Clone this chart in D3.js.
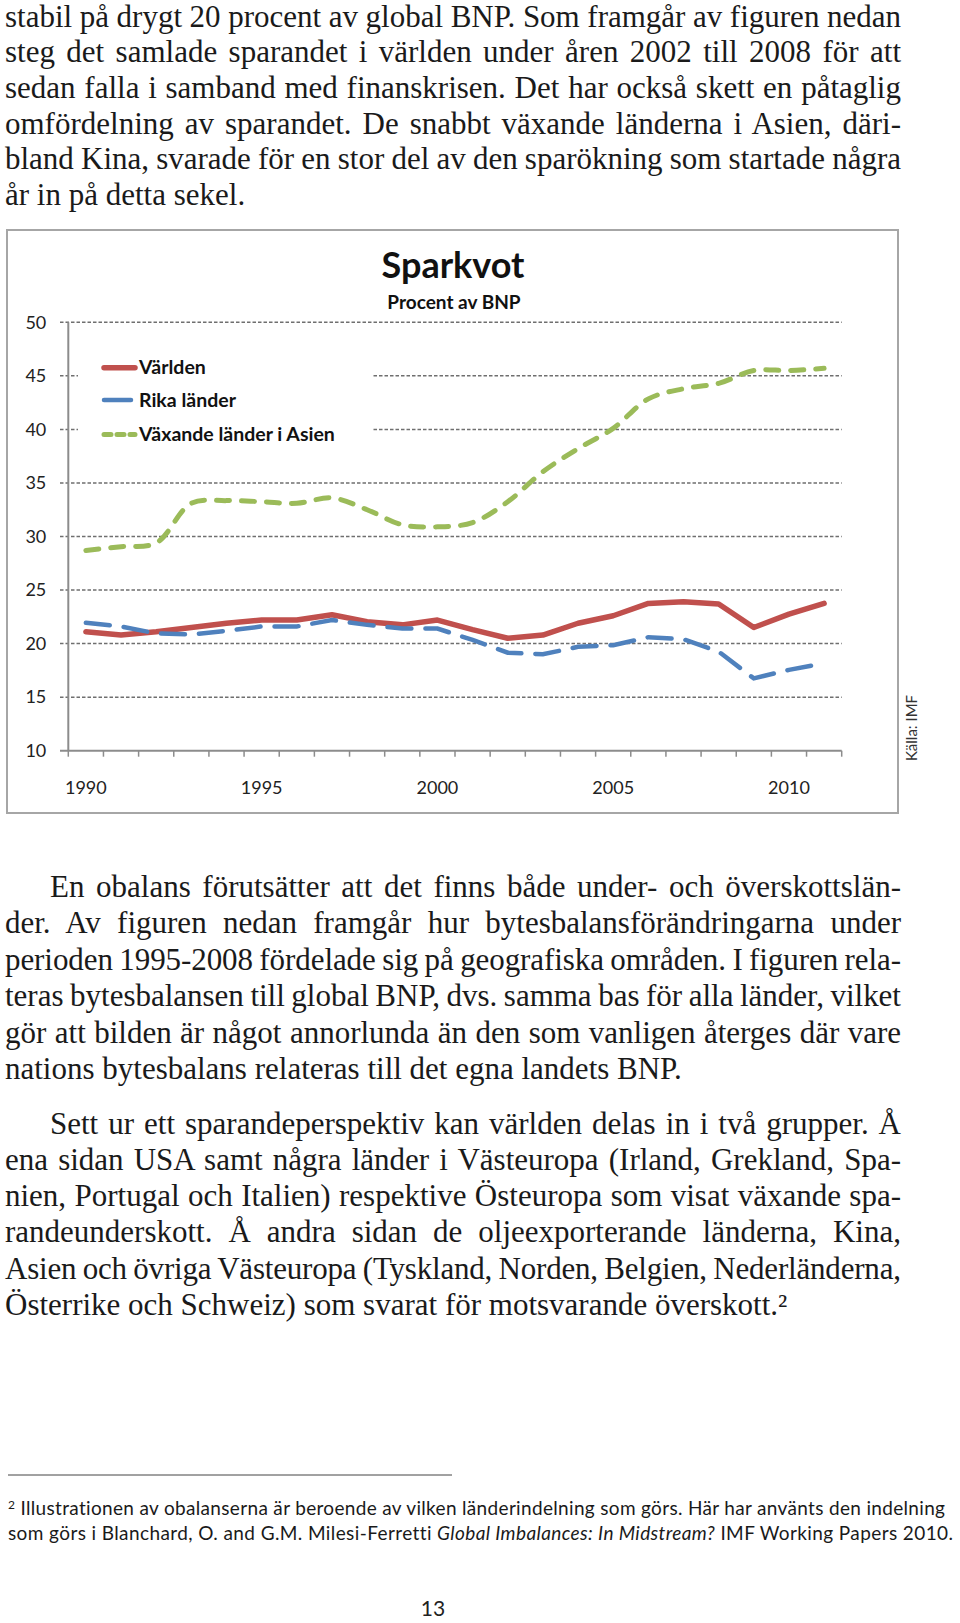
<!DOCTYPE html>
<html><head><meta charset="utf-8">
<script src="https://cdn.jsdelivr.net/npm/d3@7"></script>
<style>html,body{margin:0;padding:0;background:#fff}svg{display:block}text{font-variant-ligatures:none}</style>
</head><body>
<script>
// ---- data ----
const years = [1990,1991,1992,1993,1994,1995,1996,1997,1998,1999,2000,2001,2002,2003,2004,2005,2006,2007,2008,2009,2010,2011];
const varlden = [21.1,20.8,21.1,21.5,21.9,22.2,22.2,22.7,22.05,21.75,22.2,21.3,20.5,20.8,21.9,22.6,23.75,23.9,23.7,21.5,22.75,23.75];
const rikaLander = [21.95,21.6,20.95,20.85,21.2,21.6,21.6,22.2,21.75,21.4,21.4,20.35,19.15,19.0,19.7,19.85,20.6,20.4,19.25,16.75,17.55,18.15];
const asien = [28.7,29.05,29.4,33.1,33.35,33.25,33.1,33.6,32.5,31.1,30.9,31.3,33.25,36.05,38.2,40.1,42.85,43.8,44.3,45.5,45.5,45.7];
const yTicks = [10,15,20,25,30,35,40,45,50];
const xLabels = [1990,1995,2000,2005,2010];
const seriesNames = ["Världen","Rika länder","Växande länder i Asien"];

const para1 = [
 "stabil på drygt 20 procent av global BNP. Som framgår av figuren nedan",
 "steg det samlade sparandet i världen under åren 2002 till 2008 för att",
 "sedan falla i samband med finanskrisen. Det har också skett en påtaglig",
 "omfördelning av sparandet. De snabbt växande länderna i Asien, däri-",
 "bland Kina, svarade för en stor del av den sparökning som startade några",
 "år in på detta sekel."];
const para2 = [
 "En obalans förutsätter att det finns både under- och överskottslän-",
 "der. Av figuren nedan framgår hur bytesbalansförändringarna under",
 "perioden 1995-2008 fördelade sig på geografiska områden. I figuren rela-",
 "teras bytesbalansen till global BNP, dvs. samma bas för alla länder, vilket",
 "gör att bilden är något annorlunda än den som vanligen återges där vare",
 "nations bytesbalans relateras till det egna landets BNP."];
const para3 = [
 "Sett ur ett sparandeperspektiv kan världen delas in i två grupper. Å",
 "ena sidan USA samt några länder i Västeuropa (Irland, Grekland, Spa-",
 "nien, Portugal och Italien) respektive Östeuropa som visat växande spa-",
 "randeunderskott. Å andra sidan de oljeexporterande länderna, Kina,",
 "Asien och övriga Västeuropa (Tyskland, Norden, Belgien, Nederländerna,",
 "Österrike och Schweiz) som svarat för motsvarande överskott.²"];

const W = 960, H = 1623;
const svg = d3.select("body").append("svg").attr("width", W).attr("height", H);
svg.append("rect").attr("width", W).attr("height", H).attr("fill", "#fff");

// ---- body text ----
const serif = "'Liberation Serif','Times New Roman',serif";
const textRight = 901;
function paragraph(lines, y0, step, indent) {
  lines.forEach((ln, i) => {
    const x = 5 + (i === 0 ? indent : 0);
    const t = svg.append("text").attr("x", x).attr("y", y0 + i * step)
      .attr("font-family", serif).attr("font-size", 31).attr("fill", "#1a1a1a").text(ln);
    if (i < lines.length - 1) {
      const target = textRight - x;
      const nat = t.node().getComputedTextLength();
      const spaces = (ln.match(/ /g) || []).length;
      if (nat <= target) {
        t.attr("word-spacing", (target - nat) / spaces);
      } else {
        let ws = Math.max((target - nat) / spaces, -1.2);
        t.attr("word-spacing", ws);
        const rest = target - nat - ws * spaces;
        if (rest < 0) t.attr("letter-spacing", rest / (ln.length - 1));
      }
    }
  });
}
paragraph(para1, 26.5, 35.7, 0);
paragraph(para2, 897, 36.4, 45);
paragraph(para3, 1133.5, 36.3, 45);

// ---- chart ----
const sans = "Lato,'Open Sans',sans-serif";
svg.append("rect").attr("x", 7).attr("y", 230).attr("width", 891).attr("height", 583)
  .attr("fill", "none").attr("stroke", "#a6a6a6").attr("stroke-width", 2);

const x = d3.scaleBand().domain(years).range([68.3, 841.7]).padding(0);
const y = d3.scaleLinear().domain([10, 50]).range([750.7, 322.3]);
const cx = d => x(d) + x.bandwidth() / 2;

// gridlines
svg.append("g").selectAll("line").data(yTicks.filter(d => d > 10)).join("line")
  .attr("x1", 60).attr("x2", 841.7).attr("y1", d => y(d)).attr("y2", d => y(d))
  .attr("stroke", "#6f6f6f").attr("stroke-width", 1.5).attr("stroke-dasharray", "3.5,2");

// y axis
const yAxis = svg.append("g").attr("transform", "translate(68.3,0)")
  .call(d3.axisLeft(y).tickValues(yTicks).tickSize(8).tickPadding(14).tickFormat(d3.format("d")));
yAxis.select(".domain").attr("stroke", "#8c8c8c").attr("stroke-width", 2).attr("d", `M0,${y(50)}V${y(10)}`);
yAxis.selectAll(".tick line").attr("stroke", "none");
yAxis.selectAll(".tick text").attr("font-family", sans).attr("font-size", 18).attr("fill", "#222");

// x axis
const xAxisG = svg.append("g").attr("transform", `translate(0,${y(10)})`);
xAxisG.append("line").attr("x1", 60).attr("x2", 841.7).attr("stroke", "#8c8c8c").attr("stroke-width", 2);
const bounds = years.map(d => x(d)).concat([x(years[years.length - 1]) + x.bandwidth()]);
xAxisG.selectAll("line.tk").data(bounds).join("line").attr("class", "tk")
  .attr("x1", d => d).attr("x2", d => d).attr("y1", 0).attr("y2", 6)
  .attr("stroke", "#8c8c8c").attr("stroke-width", 1.5);
xAxisG.selectAll("text").data(xLabels).join("text")
  .attr("x", d => cx(d)).attr("y", 43).attr("text-anchor", "middle")
  .attr("font-family", sans).attr("font-size", 18).attr("fill", "#222").text(d => d);

// series
const red = "#c0504d", blue = "#4f81bd", green = "#9bbb59";
const lineStraight = d3.line().x((d, i) => cx(years[i])).y(d => y(d));
const lineSmooth = d3.line().x((d, i) => cx(years[i])).y(d => y(d)).curve(d3.curveCatmullRom.alpha(0.5));
svg.append("path").datum(asien).attr("d", lineSmooth).attr("fill", "none")
  .attr("stroke", green).attr("stroke-width", 5).attr("stroke-linecap", "round").attr("stroke-dasharray", "13,12");
svg.append("path").datum(varlden).attr("d", lineStraight).attr("fill", "none")
  .attr("stroke", red).attr("stroke-width", 5.5).attr("stroke-linejoin", "round").attr("stroke-linecap", "round");
svg.append("path").datum(rikaLander).attr("d", lineStraight).attr("fill", "none")
  .attr("stroke", blue).attr("stroke-width", 4.5).attr("stroke-linecap", "round").attr("stroke-dasharray", "24,14");

// legend
svg.append("rect").attr("x", 78).attr("y", 345).attr("width", 295).attr("height", 105).attr("fill", "#fff");
const legY = [367.7, 400, 434.5];
const legStyle = [
  {c: red, w: 5.5, dash: null},
  {c: blue, w: 4.5, dash: null},
  {c: green, w: 5, dash: "7,6"}];
seriesNames.forEach((n, i) => {
  const l = svg.append("line").attr("x1", 104).attr("x2", i === 1 ? 131 : 135)
    .attr("y1", legY[i]).attr("y2", legY[i]).attr("stroke", legStyle[i].c)
    .attr("stroke-width", legStyle[i].w).attr("stroke-linecap", "round");
  if (legStyle[i].dash) l.attr("stroke-dasharray", legStyle[i].dash);
  svg.append("text").attr("x", 139).attr("y", legY[i] + 6.5).attr("font-family", sans)
    .attr("font-weight", 700).attr("font-size", 19.5).attr("fill", "#111").text(n);
});

// titles
svg.append("text").attr("x", 453).attr("y", 278).attr("text-anchor", "middle")
  .attr("font-family", sans).attr("font-weight", 700).attr("font-size", 36).attr("fill", "#111").text("Sparkvot");
svg.append("text").attr("x", 454).attr("y", 309).attr("text-anchor", "middle")
  .attr("font-family", sans).attr("font-weight", 700).attr("font-size", 19).attr("fill", "#111").text("Procent av BNP");

// source
svg.append("text").attr("transform", "translate(917,728) rotate(-90)").attr("text-anchor", "middle")
  .attr("font-family", sans).attr("font-size", 15).attr("fill", "#333").text("Källa: IMF");

// ---- footnote ----
svg.append("line").attr("x1", 8).attr("x2", 452).attr("y1", 1475).attr("y2", 1475)
  .attr("stroke", "#444").attr("stroke-width", 1);
const fn1 = svg.append("text").attr("x", 8).attr("y", 1515).attr("font-family", sans)
  .attr("font-size", 19).attr("fill", "#1a1a1a");
fn1.append("tspan").attr("font-size", 12).attr("dy", -6).text("2");
fn1.append("tspan").attr("dy", 6).text(" Illustrationen av obalanserna är beroende av vilken länderindelning som görs. Här har använts den indelning");
fn1.attr("textLength", 937).attr("lengthAdjust", "spacing");
const fn2 = svg.append("text").attr("x", 8).attr("y", 1540).attr("font-family", sans)
  .attr("font-size", 19).attr("fill", "#1a1a1a");
fn2.append("tspan").text("som görs i Blanchard, O. and G.M. Milesi-Ferretti ");
fn2.append("tspan").attr("font-style", "italic").text("Global Imbalances: In Midstream?");
fn2.append("tspan").text(" IMF Working Papers 2010.");
fn2.attr("textLength", 945).attr("lengthAdjust", "spacing");

// page number
svg.append("text").attr("x", 433).attr("y", 1616).attr("text-anchor", "middle")
  .attr("font-family", sans).attr("font-size", 21).attr("fill", "#222").text("13");
</script>
</body></html>
